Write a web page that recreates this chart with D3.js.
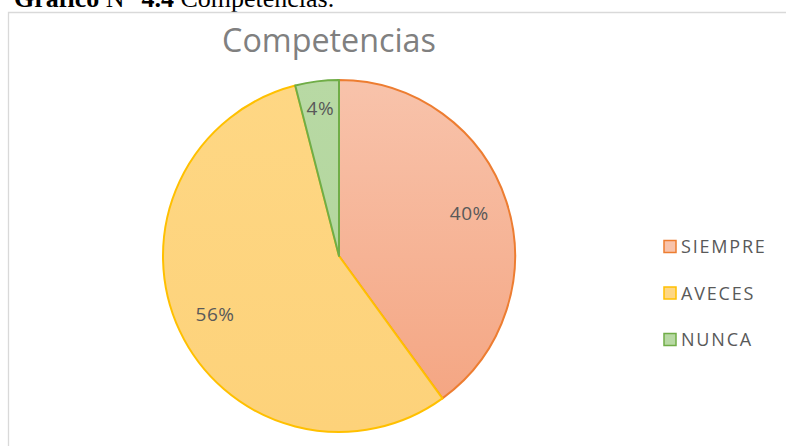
<!DOCTYPE html>
<html><head><meta charset="utf-8">
<script src="https://cdn.jsdelivr.net/npm/d3@7"></script>
<style>body{margin:0;background:#fff}svg{display:block}</style>
</head><body>
<svg id="c" width="786" height="446"></svg>
<script>
const categories = ["SIEMPRE", "AVECES", "NUNCA"];
const values = [40, 56, 4];
const labels = ["40%", "56%", "4%"];
const chartTitle = "Competencias";
const captionParts = [["Gráfico", true], [" N° ", false], ["4.4", true], [" Competencias.", false]];

const fillTop = ["#F8C3AB", "#FED784", "#B8D9A4"];
const fillBottom = ["#F4A37F", "#FDD27A", "#AFD499"];
const strokes = ["#ED7D31", "#FFC000", "#70AD47"];

const svg = d3.select("#c");
const W = 786, H = 446;

// caption (cut at top)
const cap = svg.append("text").attr("x", 14).attr("y", 7)
  .attr("font-family", "Liberation Serif, Times New Roman, serif").attr("font-size", 26).attr("fill", "#000")
  .attr("xml:space", "preserve").style("white-space", "pre");
captionParts.forEach(([s, b]) => cap.append("tspan").attr("font-weight", b ? "bold" : "normal").text(s));

// frame
svg.append("path").attr("d", `M8.5,${H+2} L8.5,12.5 L${W+2},12.5`)
  .attr("fill", "none").attr("stroke", "#D9D9D9").attr("stroke-width", 1.3);

// title
const t = svg.append("text").attr("x", 329).attr("y", 52).attr("text-anchor", "middle")
  .attr("font-family", "Open Sans, sans-serif").attr("font-size", 24).attr("fill", "#808080")
  .text(chartTitle);
const tw = t.node().getComputedTextLength();
t.attr("font-size", 24 * 214 / tw);

const cx = 339, cy = 256, R = 176;
const defs = svg.append("defs");
categories.forEach((c, i) => {
  const g = defs.append("linearGradient").attr("id", "g" + i)
    .attr("gradientUnits", "userSpaceOnUse")
    .attr("x1", 0).attr("y1", -R).attr("x2", 0).attr("y2", R);
  g.append("stop").attr("offset", 0).attr("stop-color", fillTop[i]);
  g.append("stop").attr("offset", 1).attr("stop-color", fillBottom[i]);
});

const pie = d3.pie().sort(null).value(d => d);
const arcs = pie(values);
const arc = d3.arc().innerRadius(0).outerRadius(R);
const gp = svg.append("g").attr("transform", `translate(${cx},${cy})`);
gp.selectAll("path").data(arcs).join("path")
  .attr("d", arc)
  .attr("fill", (d, i) => `url(#g${i})`)
  .attr("stroke", (d, i) => strokes[i]).attr("stroke-width", 2).attr("stroke-linejoin", "round");

gp.selectAll("text").data(arcs).join("text")
  .attr("transform", d => {
    const r = (d.endAngle - d.startAngle) < 0.5 ? 149 : 137;
    const a = (d.startAngle + d.endAngle) / 2;
    return `translate(${Math.sin(a) * r},${-Math.cos(a) * r})`;
  })
  .attr("text-anchor", "middle").attr("dy", "0.35em")
  .attr("font-family", "Open Sans, sans-serif").attr("font-size", 19).attr("fill", "#595959")
  .attr("letter-spacing", 0.6)
  .text((d, i) => labels[i]);

// legend
const lg = svg.append("g");
categories.forEach((c, i) => {
  const y = 247 + i * 46.5;
  lg.append("rect").attr("x", 664).attr("y", y - 6.5).attr("width", 12).attr("height", 12)
    .attr("fill", fillTop[i]).attr("stroke", strokes[i]).attr("stroke-width", 1.5);
  lg.append("text").attr("x", 681).attr("y", y).attr("dy", "0.35em")
    .attr("font-family", "Open Sans, sans-serif").attr("font-size", 18).attr("fill", "#595959")
    .attr("letter-spacing", 1.8)
    .text(c);
});
</script>
</body></html>
